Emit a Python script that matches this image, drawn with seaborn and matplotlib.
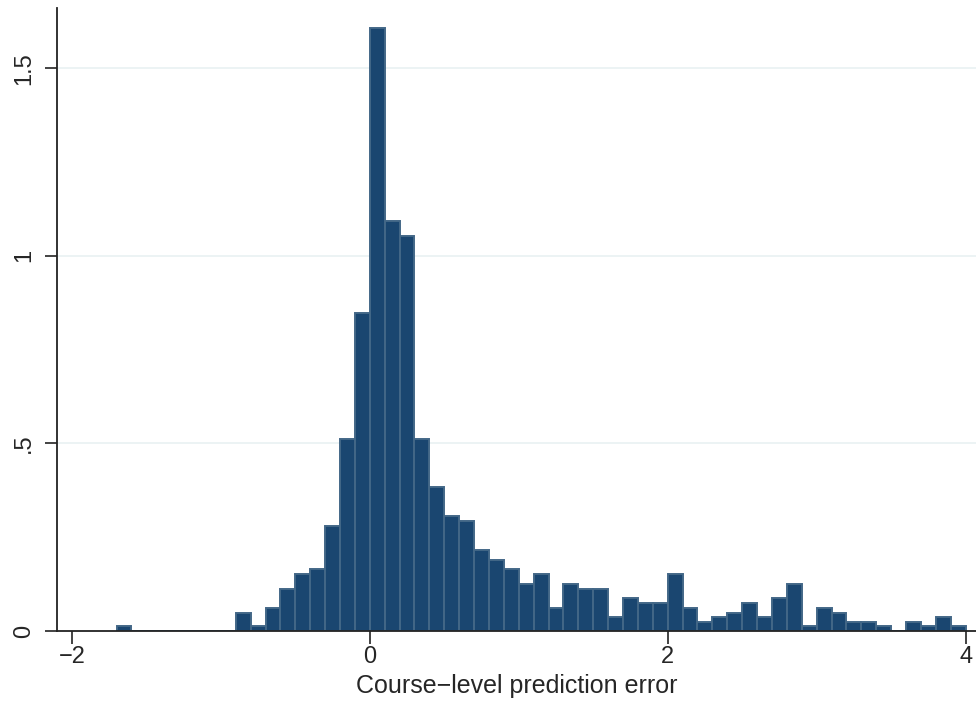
import matplotlib
matplotlib.use("Agg")
import matplotlib.pyplot as plt
import numpy as np
import pandas as pd
import seaborn as sns

# bin left edges (width 0.1) from -1.7 to 3.9 and density heights
bin_left = np.round(np.arange(-1.7, 3.95, 0.1), 2)
density = [
    0.012, 0, 0, 0, 0, 0, 0, 0,                      # -1.7 .. -1.0
    0.049, 0.012, 0.061, 0.112, 0.152, 0.164, 0.28,  # -0.9 .. -0.3
    0.511, 0.848,                                    # -0.2, -0.1
    1.607, 1.093, 1.053, 0.511, 0.383, 0.306, 0.293, # 0.0 .. 0.6
    0.215, 0.189, 0.164, 0.125, 0.152, 0.061, 0.125, # 0.7 .. 1.3
    0.113, 0.113, 0.036, 0.087, 0.075, 0.075, 0.152, # 1.4 .. 2.0
    0.061, 0.024, 0.036, 0.049, 0.075, 0.036, 0.087, # 2.1 .. 2.7
    0.125, 0.012, 0.061, 0.049, 0.024, 0.024, 0.012, # 2.8 .. 3.4
    0, 0.024, 0.012, 0.036, 0.012,                   # 3.5 .. 3.9
]
df = pd.DataFrame({"error": bin_left + 0.05, "density": density})

sns.set_style("white")
plt.rcParams["font.family"] = ["Liberation Sans", "DejaVu Sans"]

fig = plt.figure(figsize=(9.76, 7.02), dpi=100)
ax = fig.add_axes([57 / 976, 1 - 631 / 702, 919 / 976, 623 / 702])

sns.histplot(data=df, x="error", weights="density", binwidth=0.1,
             binrange=(-1.7, 4.0), stat="count",
             color="#1a4670", edgecolor="#436787", linewidth=1.4, alpha=1,
             ax=ax, zorder=2)

ax.set_xlim(-2.1, 4.07)
ax.set_ylim(0, 1.661)
ax.set_xticks([-2, 0, 2, 4])
ax.set_xticklabels(["\u22122", "0", "2", "4"])
ax.set_yticks([0, 0.5, 1, 1.5])
ax.set_yticklabels(["0", ".5", "1", "1.5"], rotation=90, va="center")
for y in [0.5, 1, 1.5]:
    ax.axhline(y, color="#eaf2f3", lw=1.3, zorder=1)

ax.set_xlabel("Course\u2212level prediction error", fontsize=18, labelpad=4)
ax.set_ylabel("")
ax.tick_params(axis="both", labelsize=17, length=9, width=1.2, color="#222222",
               direction="out", left=True, bottom=True)
ax.tick_params(axis="y", pad=7)
ax.tick_params(axis="x", pad=2)
for s in ["top", "right"]:
    ax.spines[s].set_visible(False)
for s in ["left", "bottom"]:
    ax.spines[s].set_color("#222222")
    ax.spines[s].set_linewidth(1.3)
    ax.spines[s].set_zorder(3)

fig.savefig("out.png", dpi=100)
